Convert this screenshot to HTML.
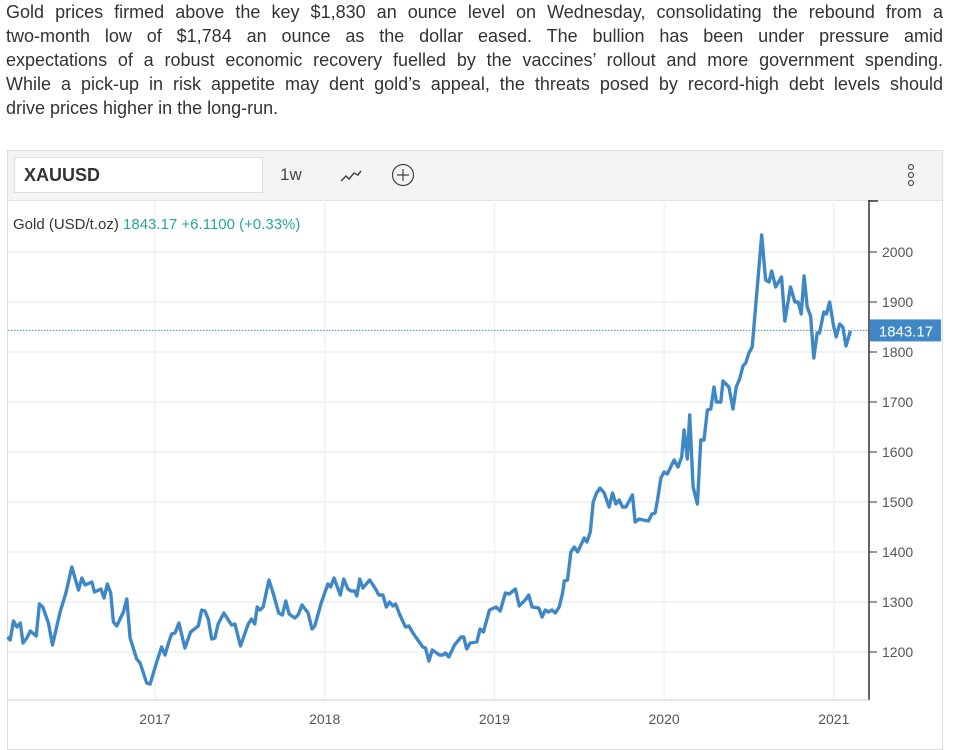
<!DOCTYPE html>
<html><head><meta charset="utf-8"><style>
body{margin:0;width:963px;height:738px;overflow:hidden;background:#fff;font-family:"Liberation Sans",sans-serif;position:relative}
#desc{position:absolute;left:6px;top:0;width:937px;font-size:18px;line-height:24px;color:#333;margin:0}
#desc span{display:block;white-space:nowrap;text-align:justify;text-align-last:justify}
#desc span.last{text-align-last:left}
#box{position:absolute;left:7px;top:150px;width:936px;height:600px;border:1px solid #ddd;box-sizing:border-box}
#bar{position:absolute;left:0;top:0;width:100%;height:49px;background:#f4f4f4;border-bottom:1px solid #e2e2e2}
#sym{position:absolute;left:6px;top:6px;width:249px;height:36px;background:#fff;border:1px solid #ddd;box-sizing:border-box;font-weight:bold;font-size:18px;color:#333;line-height:34px;padding-left:9px}
#per{position:absolute;left:272px;top:14px;font-size:17px;color:#444}
svg{position:absolute;left:0;top:0}
</style></head><body>
<p id="desc"><span>Gold prices firmed above the key $1,830 an ounce level on Wednesday, consolidating the rebound from a</span><span>two-month low of $1,784 an ounce as the dollar eased. The bullion has been under pressure amid</span><span>expectations of a robust economic recovery fuelled by the vaccines’ rollout and more government spending.</span><span>While a pick-up in risk appetite may dent gold’s appeal, the threats posed by record-high debt levels should</span><span class="last">drive prices higher in the long-run.</span></p>
<div id="box">
<div id="bar">
<div id="sym">XAUUSD</div>
<div id="per">1w</div>
</div></div>
<svg width="963" height="738" id="chart">
<g><polyline points="341,181 346,176 349,179 354,173 358,175 361,171" fill="none" stroke="#444" stroke-width="1.5"/></g>
<g><circle cx="403" cy="175" r="10.5" fill="none" stroke="#444" stroke-width="1.2"/><path d="M397 175h12M403 169v12" stroke="#444" stroke-width="1.2"/></g>
<g fill="none" stroke="#555" stroke-width="1.2"><circle cx="911" cy="167" r="2.5"/><circle cx="911" cy="175" r="2.5"/><circle cx="911" cy="183" r="2.5"/></g>
<g id="grid"></g>
<text x="13" y="229" font-size="15" fill="#333">Gold (USD/t.oz) <tspan fill="#26a69a">1843.17  +6.1100 (+0.33%)</tspan></text>
<g id="axis"></g><g id="series"></g>
</svg>
<script>
const yTicks=[2000,1900,1800,1700,1600,1500,1400,1300,1200];
const xTicks=[2017,2018,2019,2020,2021];
const lastPrice=1843.17;
const dates=[2016.131,2016.147,2016.166,2016.186,2016.206,2016.222,2016.245,2016.265,2016.300,2016.319,2016.339,2016.372,2016.396,2016.441,2016.475,2016.510,2016.549,2016.569,2016.588,2016.628,2016.643,2016.681,2016.700,2016.719,2016.739,2016.755,2016.775,2016.814,2016.834,2016.853,2016.892,2016.912,2016.951,2016.971,2017.010,2017.039,2017.059,2017.078,2017.098,2017.118,2017.141,2017.176,2017.210,2017.255,2017.275,2017.294,2017.314,2017.334,2017.353,2017.372,2017.406,2017.451,2017.471,2017.504,2017.549,2017.569,2017.588,2017.602,2017.618,2017.637,2017.672,2017.696,2017.729,2017.751,2017.771,2017.790,2017.824,2017.843,2017.866,2017.902,2017.925,2017.941,2017.981,2018.019,2018.035,2018.055,2018.092,2018.112,2018.137,2018.157,2018.176,2018.190,2018.206,2018.225,2018.265,2018.300,2018.319,2018.343,2018.363,2018.382,2018.402,2018.418,2018.441,2018.476,2018.496,2018.524,2018.578,2018.594,2018.614,2018.634,2018.676,2018.696,2018.712,2018.731,2018.765,2018.804,2018.819,2018.837,2018.857,2018.896,2018.916,2018.935,2018.971,2019.010,2019.034,2019.065,2019.088,2019.124,2019.147,2019.186,2019.202,2019.222,2019.261,2019.281,2019.300,2019.319,2019.339,2019.359,2019.382,2019.402,2019.412,2019.431,2019.451,2019.471,2019.490,2019.529,2019.545,2019.565,2019.582,2019.602,2019.622,2019.647,2019.676,2019.696,2019.716,2019.735,2019.755,2019.775,2019.814,2019.829,2019.853,2019.876,2019.908,2019.928,2019.947,2019.961,2019.981,2020.000,2020.019,2020.059,2020.082,2020.104,2020.118,2020.137,2020.151,2020.171,2020.196,2020.216,2020.235,2020.255,2020.275,2020.294,2020.308,2020.334,2020.347,2020.382,2020.406,2020.425,2020.445,2020.465,2020.481,2020.500,2020.519,2020.549,2020.575,2020.598,2020.618,2020.634,2020.657,2020.692,2020.712,2020.745,2020.771,2020.790,2020.808,2020.825,2020.843,2020.863,2020.882,2020.902,2020.916,2020.941,2020.957,2020.975,2021.000,2021.014,2021.034,2021.053,2021.072,2021.098];
const prices=[1230,1224,1262,1250,1258,1218,1228,1242,1232,1296,1290,1258,1214,1280,1318,1370,1324,1348,1334,1340,1320,1326,1308,1336,1318,1260,1252,1280,1306,1228,1186,1178,1138,1136,1180,1210,1194,1216,1236,1238,1258,1208,1240,1252,1284,1282,1266,1226,1228,1256,1278,1254,1256,1212,1256,1266,1256,1290,1284,1290,1344,1318,1278,1274,1302,1276,1268,1274,1294,1278,1246,1252,1300,1336,1330,1348,1314,1346,1326,1322,1322,1312,1346,1328,1344,1326,1314,1314,1290,1300,1292,1296,1276,1250,1252,1236,1210,1208,1182,1204,1194,1194,1198,1190,1214,1230,1230,1206,1218,1220,1246,1240,1284,1290,1282,1318,1316,1326,1292,1306,1314,1290,1288,1270,1284,1280,1284,1278,1290,1318,1342,1344,1400,1410,1400,1428,1420,1440,1500,1518,1528,1518,1490,1518,1496,1504,1490,1490,1514,1460,1466,1464,1462,1476,1478,1504,1548,1560,1556,1584,1570,1590,1644,1586,1674,1530,1496,1624,1624,1684,1686,1730,1700,1700,1742,1730,1686,1730,1746,1772,1778,1798,1810,1930,2034,1944,1940,1962,1930,1950,1862,1930,1900,1900,1876,1952,1890,1872,1788,1838,1838,1880,1876,1900,1850,1830,1856,1850,1812,1842];
const NS='http://www.w3.org/2000/svg';
const X=t=>155+(t-2017)*169.7, Y=v=>252+(2000-v)*0.5;
const L=8,R=869,T=200,B=700;
function mk(tag,at,parent){const e=document.createElementNS(NS,tag);for(const k in at)e.setAttribute(k,at[k]);document.getElementById(parent).appendChild(e);return e;}
yTicks.forEach(v=>{
 const g=mk('line',{x1:L,x2:R,y1:Y(v),y2:Y(v),stroke:'#e6e6e6','stroke-width':1},'grid');
 
 
 const tk=mk('line',{x1:R,x2:R+8,y1:Y(v),y2:Y(v),stroke:'#333','stroke-width':1},'axis');
 
 
 const tx=mk('text',{x:R+13,y:Y(v)+5,'font-size':14,fill:'#555'},'axis');
 tx.textContent=v;
 
 
});
xTicks.forEach(t=>{
 const g=mk('line',{x1:X(t),x2:X(t),y1:T,y2:B,stroke:'#eef3f7','stroke-width':1.5},'grid');
 
 
 const tx=mk('text',{x:X(t),y:724,'font-size':14,fill:'#555','text-anchor':'middle'},'axis');
 tx.textContent=t;
 
 
});
const ax=mk('line',{x1:R,x2:R,y1:T,y2:B,stroke:'#333','stroke-width':1.5},'axis');


const ax2=mk('line',{x1:R,x2:R+9,y1:T+1,y2:T+1,stroke:'#333','stroke-width':1.5},'axis');


const bx=mk('line',{x1:L,x2:R,y1:B,y2:B,stroke:'#ccc','stroke-width':1},'axis');


const dl=mk('line',{x1:L,x2:R,y1:Y(lastPrice),y2:Y(lastPrice),stroke:'#3f88c5','stroke-width':1,'stroke-dasharray':'1.5,1.5'},'series');


const pts=dates.map((d,i)=>X(d).toFixed(1)+','+Y(prices[i]).toFixed(1)).join(' ');
const pl=mk('polyline',{points:pts,fill:'none',stroke:'#3f88c5','stroke-width':3.4,'stroke-linejoin':'round'},'series');


const tag=mk('rect',{x:R+1,y:Y(lastPrice)-11,width:71,height:22,fill:'#3f88c5'},'series');


const tt=mk('text',{x:R+37,y:Y(lastPrice)+6,'font-size':15,fill:'#fff','text-anchor':'middle'},'series');
tt.textContent=lastPrice.toFixed(2);


</script>
</body></html>
